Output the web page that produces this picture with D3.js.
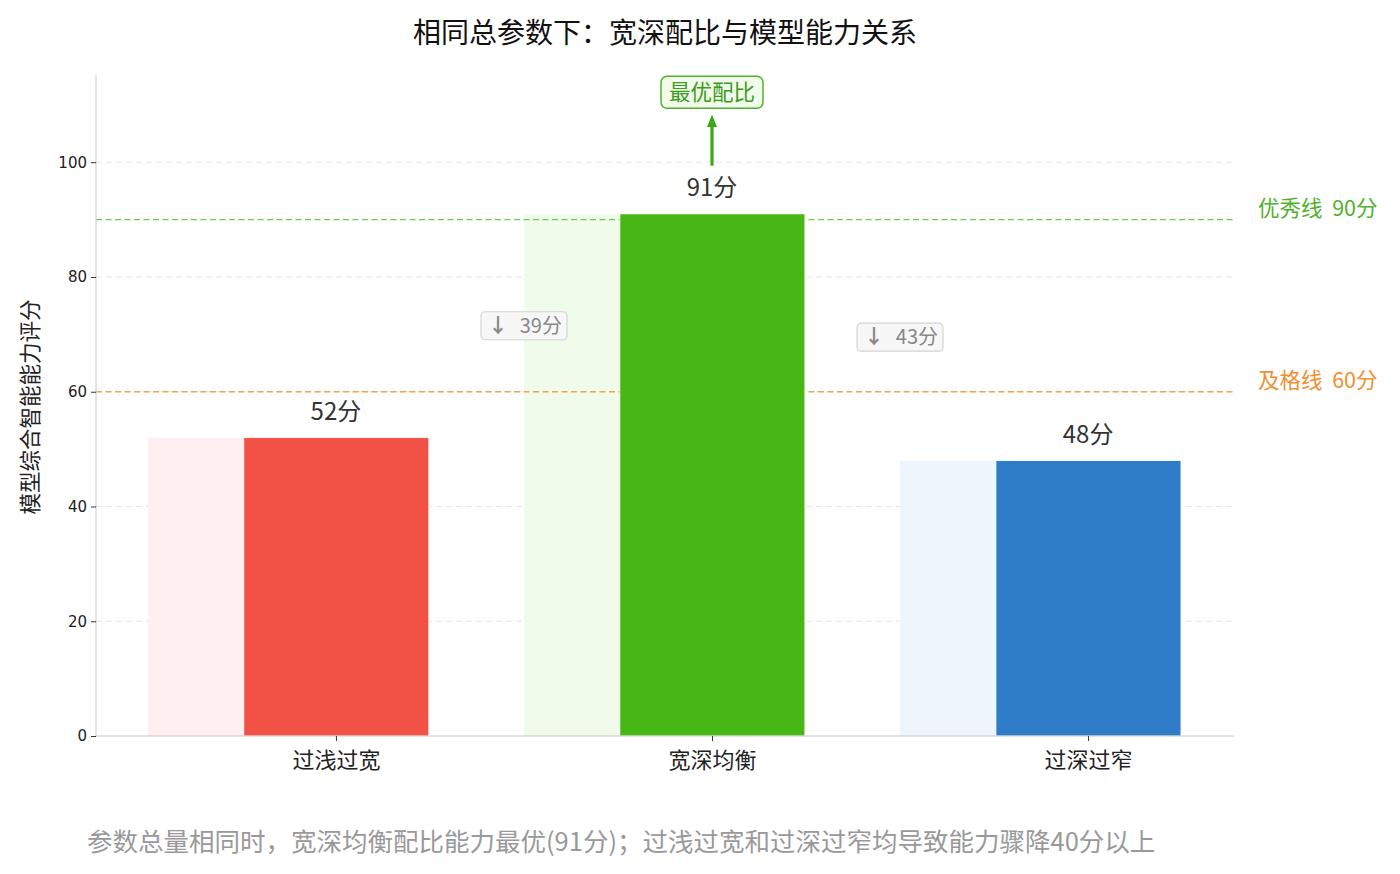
<!DOCTYPE html>
<html>
<head>
<meta charset="utf-8">
<script src="https://d3js.org/d3.v7.min.js"></script>
<style>
  body { margin: 0; background: #fff; }
  svg text { font-family: "Noto Sans CJK SC", "DejaVu Sans", sans-serif; }
</style>
</head>
<body>
<svg id="chart"></svg>
<script>
// data
var categories = ["过浅过宽", "宽深均衡", "过深过窄"];
var scores = [52, 91, 48];
var barColors = ["#f25246", "#48b614", "#2f7dc8"];
var shadeColors = ["#fef0f0", "#f0fbec", "#eef5fd"];
var yTicks = [0, 20, 40, 60, 80, 100];
var refLines = [
  {value: 90, label: "优秀线  90分", color: "#6ccb4c", text: "#52b030"},
  {value: 60, label: "及格线  60分", color: "#f0a44c", text: "#f09030"}
];
var drops = [39, 43];

var W = 1400, H = 874;
var svg = d3.select("#chart").attr("width", W).attr("height", H);

var x = d3.scaleLinear().domain([-0.638, 2.388]).range([96, 1234]);
var y = d3.scaleLinear().domain([0, 115.2]).range([736, 75]);

// grid
svg.append("g").selectAll("line")
  .data(yTicks.filter(function(d){ return d > 0; }))
  .enter().append("line")
  .attr("x1", 96).attr("x2", 1234)
  .attr("y1", function(d){ return y(d); }).attr("y2", function(d){ return y(d); })
  .attr("stroke", "#e6e6e6").attr("stroke-width", 1).attr("stroke-dasharray", "6,4");

// shade bars
svg.append("g").selectAll("rect")
  .data(scores).enter().append("rect")
  .attr("x", function(d,i){ return x(i - 0.5); })
  .attr("width", function(d,i){ return x(i + 0.247) - x(i - 0.5); })
  .attr("y", function(d){ return y(d); })
  .attr("height", function(d){ return y(0) - y(d); })
  .attr("fill", function(d,i){ return shadeColors[i]; });

// reference lines
refLines.forEach(function(r){
  svg.append("line")
    .attr("x1", 96).attr("x2", 1234)
    .attr("y1", y(r.value)).attr("y2", y(r.value))
    .attr("stroke", r.color).attr("stroke-width", 1.3).attr("stroke-dasharray", "6,3.5");
  svg.append("text")
    .attr("x", 1258).attr("y", y(r.value) - 4)
    .attr("font-size", 21.5).attr("fill", r.text)
    .style("white-space", "pre")
    .text(r.label);
});

// main bars
svg.append("g").selectAll("rect")
  .data(scores).enter().append("rect")
  .attr("x", function(d,i){ return x(i - 0.245); })
  .attr("width", function(d,i){ return x(i + 0.247) - x(i - 0.245); })
  .attr("y", function(d){ return y(d); })
  .attr("height", function(d){ return y(0) - y(d); })
  .attr("fill", function(d,i){ return barColors[i]; })
  .attr("stroke", "#fff").attr("stroke-width", 0.8);

// value labels
svg.append("g").selectAll("text")
  .data(scores).enter().append("text")
  .attr("x", function(d,i){ return x(i); })
  .attr("y", function(d){ return y(d) - 18; })
  .attr("text-anchor", "middle")
  .attr("font-size", 24).attr("fill", "#333")
  .text(function(d){ return d + "分"; });

// axes
var yAxis = d3.axisLeft(y).tickValues(yTicks).tickSize(5).tickPadding(4);
var gy = svg.append("g").attr("transform", "translate(96,0)").call(yAxis);
gy.select(".domain").attr("stroke", "#c8c8c8").attr("d", "M0," + y(0) + "V75");
gy.selectAll(".tick line").attr("stroke", "#333");
gy.selectAll(".tick text").attr("font-size", 15).attr("fill", "#222")
  .style("font-family", "'DejaVu Sans', sans-serif");

var xAxis = d3.axisBottom(x).tickValues([0, 1, 2]).tickSize(5).tickPadding(11)
  .tickFormat(function(d){ return categories[d]; });
var gx = svg.append("g").attr("transform", "translate(0," + y(0) + ")").call(xAxis);
gx.select(".domain").attr("stroke", "#c8c8c8").attr("d", "M96,0H1234");
gx.selectAll(".tick line").attr("stroke", "#333");
gx.selectAll(".tick text").attr("font-size", 22).attr("fill", "#222");

// drop annotations
drops.forEach(function(v, i){
  var cx = x(i + 0.5), cy = y((scores[i] + scores[i+1]) / 2);
  var g = svg.append("g").attr("transform", "translate(" + cx + "," + cy + ")");
  g.append("rect").attr("x", -43).attr("y", -14).attr("width", 86).attr("height", 28)
    .attr("rx", 4).attr("fill", "#f7f7f7").attr("stroke", "#d4d4d4").attr("stroke-width", 1.2);
  g.append("text").attr("x", -36).attr("y", 7).attr("font-size", 20).attr("fill", "#888")
    .attr("font-weight", "bold").text("↓");
  g.append("text").attr("x", 38).attr("y", 7).attr("text-anchor", "end")
    .attr("font-size", 20).attr("fill", "#888").text(v + "分");
});

// best annotation
var bx = x(1);
svg.append("defs").append("marker")
  .attr("id", "arr").attr("viewBox", "0 0 10 10").attr("refX", 5).attr("refY", 5)
  .attr("markerWidth", 4).attr("markerHeight", 4).attr("orient", "auto")
  .append("path").attr("d", "M0,1 L10,5 L0,9 z").attr("fill", "#3aa812");
svg.append("line")
  .attr("x1", bx).attr("x2", bx)
  .attr("y1", y(scores[1] + 8.4)).attr("y2", y(107.2))
  .attr("stroke", "#3aa812").attr("stroke-width", 3.2)
  .attr("marker-end", "url(#arr)");
var bg = svg.append("g").attr("transform", "translate(" + bx + "," + y(112.2) + ")");
bg.append("rect").attr("x", -51).attr("y", -16).attr("width", 102).attr("height", 32)
  .attr("rx", 6).attr("fill", "#f1fbea").attr("stroke", "#52b030").attr("stroke-width", 1.5);
bg.append("text").attr("y", 8).attr("text-anchor", "middle")
  .attr("font-size", 21.5).attr("fill", "#3d9a1e").text("最优配比");

// titles
svg.append("text").attr("x", 665).attr("y", 43).attr("text-anchor", "middle")
  .attr("font-size", 28).attr("fill", "#111").text("相同总参数下：宽深配比与模型能力关系");

svg.append("text")
  .attr("transform", "translate(38,407) rotate(-90)")
  .attr("text-anchor", "middle").attr("font-size", 21.5).attr("fill", "#222")
  .text("模型综合智能能力评分");

svg.append("text").attr("x", 87).attr("y", 851)
  .attr("font-size", 25.5).attr("fill", "#999")
  .text("参数总量相同时，宽深均衡配比能力最优(91分)；过浅过宽和过深过窄均导致能力骤降40分以上");
</script>
</body>
</html>
